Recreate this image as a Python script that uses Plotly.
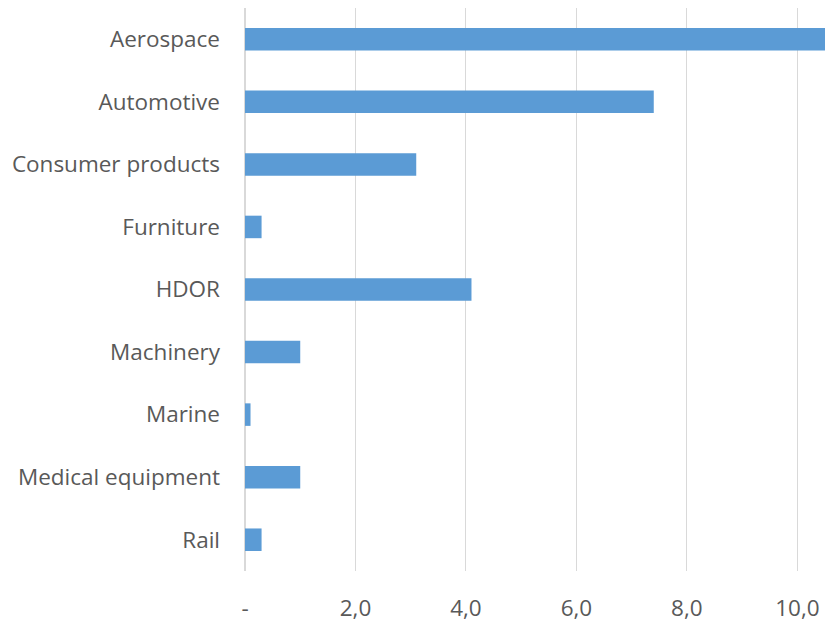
import plotly.graph_objects as go

# Sector values (top to bottom)
categories = [
    "Aerospace",
    "Automotive",
    "Consumer products",
    "Furniture",
    "HDOR",
    "Machinery",
    "Marine",
    "Medical equipment",
    "Rail",
]
values = [10.5, 7.4, 3.1, 0.3, 4.1, 1.0, 0.1, 1.0, 0.3]

tick_vals = [0, 2, 4, 6, 8, 10]
tick_text = ["-", "2,0", "4,0", "6,0", "8,0", "10,0"]

font_family = "Open Sans, Noto Sans, DejaVu Sans, sans-serif"
text_color = "#595959"
grid_color = "#D9D9D9"
font_size = 22.5

fig = go.Figure(
    go.Bar(
        x=values,
        y=categories,
        orientation="h",
        marker=dict(color="#5B9BD5", line=dict(width=0)),
        width=0.36,
    )
)

fig.update_layout(
    width=825,
    height=622,
    margin=dict(l=245, r=0, t=8, b=51),
    paper_bgcolor="white",
    plot_bgcolor="white",
    showlegend=False,
    font=dict(family=font_family, size=font_size, color=text_color),
)

fig.update_xaxes(
    range=[0, 10.5],
    tickvals=tick_vals,
    ticktext=tick_text,
    showgrid=True,
    gridcolor=grid_color,
    gridwidth=1,
    zeroline=True,
    zerolinecolor=grid_color,
    zerolinewidth=2,
    showline=False,
    ticks="",
    ticklabelstandoff=21,
    tickfont=dict(size=font_size, color=text_color),
)

fig.update_yaxes(
    categoryorder="array",
    categoryarray=categories,
    autorange="reversed",
    showgrid=False,
    zeroline=False,
    showline=False,
    ticks="",
    ticklabelstandoff=24,
    tickfont=dict(size=font_size, color=text_color),
)

fig.write_html("out.html")
